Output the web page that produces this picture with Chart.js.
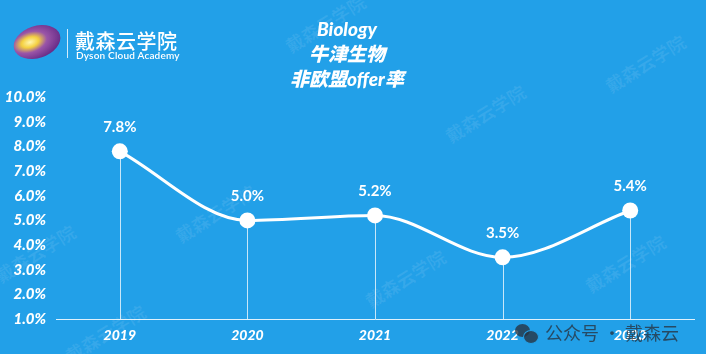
<!DOCTYPE html>
<html>
<head>
<meta charset="utf-8">
<script src="https://cdn.jsdelivr.net/npm/chart.js@4"></script>
<style>
  html, body { margin: 0; padding: 0; }
  body { width: 706px; height: 354px; background: #22a0e8; overflow: hidden; position: relative;
         font-family: Lato, "Noto Sans CJK SC", sans-serif; }
  #wrap { position: absolute; left: 0; top: 0; width: 706px; height: 354px; }
  .logo-eye { position: absolute; left: 13px; top: 26px; width: 48px; height: 32px; border-radius: 50%;
              transform: rotate(-18deg);
              background: radial-gradient(ellipse at 36% 44%, #fff6b0 0, #f4d040 20%, #9a55a8 40%, #6b2f8a 72%, #58207a 100%); }
  .logo-bar { position: absolute; left: 67px; top: 29px; width: 1px; height: 29px; background: rgba(255,255,255,0.8); }
  .logo-cn { position: absolute; left: 75px; top: 26px; color: #fff; font: 500 20px "Noto Sans CJK SC", sans-serif; letter-spacing: 0.5px; }
  .logo-en { position: absolute; left: 76px; top: 49px; color: #fff; font: 600 10px Lato, sans-serif; letter-spacing: 0.2px; }
  .mark { position: absolute; color: rgba(255,255,255,0.09); font: 700 18px "Noto Sans CJK SC", sans-serif;
          transform: rotate(-32deg); white-space: nowrap; pointer-events: none; }
  .wx { position: absolute; left: 545px; top: 319px; color: rgba(40,52,66,0.8);
        font: 400 18px "Noto Sans CJK SC", sans-serif; white-space: nowrap; }
  .b1, .b2 { position: absolute; border-radius: 50%; background: rgba(40,52,66,0.8); }
  .b1 { left: 515px; top: 324px; width: 15px; height: 13px; }
  .b2 { left: 523px; top: 330px; width: 14px; height: 12px; border: 1px solid #22a0e8; }
</style>
</head>
<body>
<div class="mark" style="left:280px;top:10px">戴森云学院</div>
<div class="mark" style="left:440px;top:100px">戴森云学院</div>
<div class="mark" style="left:600px;top:50px">戴森云学院</div>
<div class="mark" style="left:170px;top:200px">戴森云学院</div>
<div class="mark" style="left:-10px;top:240px">戴森云学院</div>
<div class="mark" style="left:360px;top:265px">戴森云学院</div>
<div class="mark" style="left:580px;top:250px">戴森云学院</div>
<div class="mark" style="left:60px;top:320px">戴森云学院</div>
<div id="wrap"><canvas id="c" width="706" height="354"></canvas></div>
<div class="logo-eye"></div>
<div class="logo-bar"></div>
<div class="logo-cn">戴森云学院</div>
<div class="logo-en">Dyson Cloud Academy</div>
<div class="b1"></div><div class="b2"></div>
<div class="wx">公众号 · 戴森云</div>
<script>
const years = ['2019', '2020', '2021', '2022', '2023'];
const offerRate = [7.8, 5.0, 5.2, 3.5, 5.4];
const titleLines = ['Biology', '牛津生物', '非欧盟offer率'];
const yMin = 1, yMax = 10, yStep = 1;

const fontFam = 'Lato, "Noto Sans CJK SC", sans-serif';

// vertical lines from each point down to the axis, plus value labels
const dropLines = {
  id: 'dropLines',
  beforeDatasetsDraw(chart) {
    const ctx = chart.ctx;
    const bottom = chart.chartArea.bottom;
    const meta = chart.getDatasetMeta(0);
    ctx.save();
    ctx.strokeStyle = 'rgba(255,255,255,0.75)';
    ctx.lineWidth = 1;
    meta.data.forEach(pt => {
      ctx.beginPath();
      ctx.moveTo(Math.round(pt.x) + 0.5, pt.y);
      ctx.lineTo(Math.round(pt.x) + 0.5, bottom);
      ctx.stroke();
    });
    ctx.restore();
  },
  afterDatasetsDraw(chart) {
    const ctx = chart.ctx;
    const meta = chart.getDatasetMeta(0);
    ctx.save();
    ctx.fillStyle = '#fff';
    ctx.font = '700 15px ' + fontFam;
    ctx.textAlign = 'center';
    ctx.textBaseline = 'middle';
    meta.data.forEach((pt, i) => {
      ctx.fillText(offerRate[i].toFixed(1) + '%', pt.x, pt.y - 24);
    });
    ctx.restore();
  }
};

new Chart(document.getElementById('c'), {
  type: 'line',
  data: {
    labels: years,
    datasets: [{
      data: offerRate,
      borderColor: '#fff',
      borderWidth: 3,
      cubicInterpolationMode: 'monotone',
      pointRadius: 8,
      pointBackgroundColor: '#fff',
      pointBorderWidth: 0,
      fill: false
    }]
  },
  options: {
    responsive: false,
    animation: false,
    layout: { padding: { left: 0, right: 12, top: 0, bottom: 3 } },
    plugins: {
      legend: { display: false },
      tooltip: { enabled: false },
      title: {
        display: true,
        text: titleLines,
        color: '#fff',
        font: { family: fontFam, size: 19, weight: '900', style: 'italic', lineHeight: 1.3 },
        padding: { top: 18, bottom: 5 }
      }
    },
    scales: {
      x: {
        offset: true,
        grid: { display: false, drawTicks: false },
        border: { display: true, color: 'rgba(255,255,255,0.85)', width: 1 },
        ticks: { color: '#fff', padding: 9, font: { family: fontFam, size: 14, weight: '900', style: 'italic', lineHeight: 1 } }
      },
      y: {
        min: yMin,
        max: yMax,
        afterFit(scale) { scale.width = 56; },
        grid: { display: false, drawTicks: false },
        border: { display: false },
        ticks: {
          stepSize: yStep,
          color: '#fff',
          padding: 10,
          font: { family: fontFam, size: 15, weight: '900', style: 'italic' },
          callback: v => v.toFixed(1) + '%'
        }
      }
    }
  },
  plugins: [dropLines]
});
</script>
</body>
</html>
